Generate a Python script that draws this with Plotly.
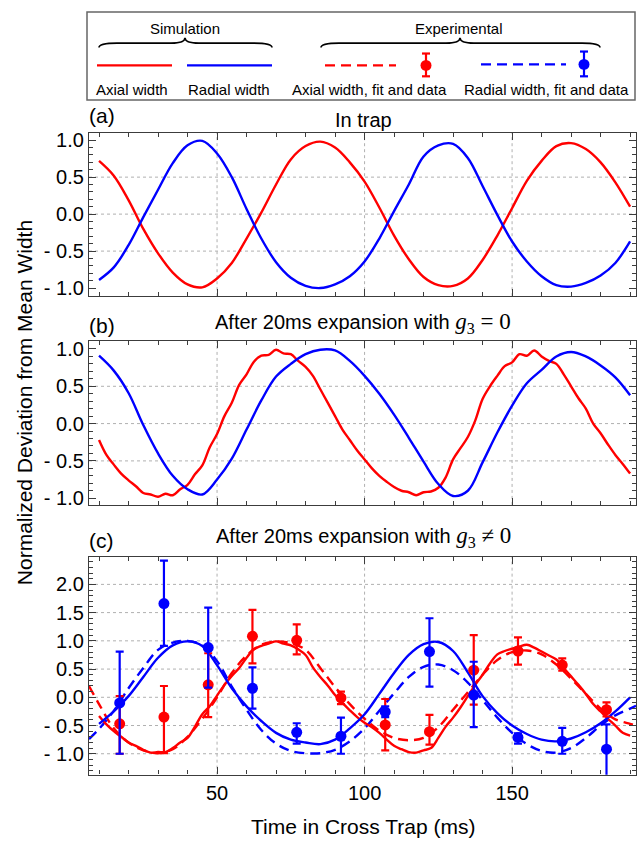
import plotly.graph_objects as go

# ---------------- data ----------------
t5 = [10, 15, 20, 25, 30, 35, 40, 45, 50, 55, 60, 65, 70, 75, 80, 85, 90, 95, 100,
      105, 110, 115, 120, 125, 130, 135, 140, 145, 150, 155, 160, 165, 170, 175,
      180, 185, 190]
t25 = [10, 12.5, 15, 17.5, 20, 22.5, 25, 27.5, 30, 32.5, 35, 37.5, 40, 42.5, 45,
       47.5, 50, 52.5, 55, 57.5, 60, 62.5, 65, 67.5, 70, 72.5, 75, 77.5, 80, 82.5,
       85, 87.5, 90, 92.5, 95, 97.5, 100, 102.5, 105, 107.5, 110, 112.5, 115,
       117.5, 120, 122.5, 125, 127.5, 130, 132.5, 135, 137.5, 140, 142.5, 145,
       147.5, 150, 152.5, 155, 157.5, 160, 162.5, 165, 167.5, 170, 172.5, 175,
       177.5, 180, 182.5, 185, 187.5, 190]

# (a) In trap
axial_a = [0.72, 0.52, 0.19, -0.20, -0.53, -0.79, -0.95, -0.99, -0.87, -0.66, -0.33,
           0.02, 0.40, 0.74, 0.92, 0.98, 0.90, 0.70, 0.44, 0.09, -0.29, -0.61, -0.85,
           -0.96, -0.97, -0.87, -0.62, -0.29, 0.08, 0.45, 0.72, 0.92, 0.96, 0.88,
           0.70, 0.43, 0.10]
radial_a = [-0.89, -0.72, -0.42, -0.04, 0.33, 0.69, 0.93, 0.99, 0.82, 0.50, 0.07,
            -0.33, -0.65, -0.86, -0.97, -1.00, -0.95, -0.84, -0.64, -0.33, 0.04, 0.40,
            0.78, 0.93, 0.95, 0.76, 0.38, -0.01, -0.37, -0.64, -0.84, -0.96, -0.98,
            -0.93, -0.83, -0.66, -0.37]

# (b) after 20 ms expansion, g3 = 0
axial_b = [-0.22, -0.42, -0.55, -0.67, -0.76, -0.84, -0.93, -0.95, -0.98, -0.94,
           -0.96, -0.88, -0.82, -0.68, -0.56, -0.32, -0.14, 0.10, 0.28, 0.52, 0.66,
           0.83, 0.91, 0.92, 0.99, 0.94, 0.93, 0.84, 0.76, 0.64, 0.46, 0.28, 0.10,
           -0.08, -0.22, -0.36, -0.48, -0.60, -0.70, -0.78, -0.85, -0.90, -0.92,
           -0.96, -0.92, -0.91, -0.86, -0.72, -0.48, -0.33, -0.18, 0.04, 0.33, 0.50,
           0.64, 0.77, 0.82, 0.93, 0.91, 0.98, 0.90, 0.84, 0.80, 0.66, 0.50, 0.34,
           0.20, 0.00, -0.13, -0.28, -0.42, -0.54, -0.67]
radial_b = [0.91, 0.71, 0.41, -0.02, -0.40, -0.70, -0.88, -0.95, -0.75, -0.47, -0.08,
            0.31, 0.63, 0.80, 0.93, 0.99, 0.98, 0.84, 0.64, 0.40, 0.12, -0.19, -0.51,
            -0.81, -0.97, -0.90, -0.52, -0.12, 0.24, 0.54, 0.72, 0.90, 0.96, 0.90,
            0.78, 0.62, 0.38]

# (c) after 20 ms expansion, g3 != 0 : simulation
axial_c = [-0.33, -0.48, -0.60, -0.70, -0.80, -0.86, -0.93, -0.98, -0.97, -0.97,
           -0.90, -0.80, -0.72, -0.52, -0.30, -0.16, 0.03, 0.22, 0.38, 0.52, 0.70,
           0.85, 0.91, 0.95, 0.99, 0.95, 0.92, 0.85, 0.75, 0.53, 0.36, 0.21, 0.04,
           -0.10, -0.23, -0.35, -0.45, -0.53, -0.63, -0.75, -0.86, -0.92, -0.97,
           -0.98, -0.94, -0.90, -0.72, -0.52, -0.36, -0.18, 0.02, 0.22, 0.40, 0.60,
           0.76, 0.82, 0.86, 0.90, 0.93, 0.88, 0.81, 0.74, 0.67, 0.52, 0.37, 0.22,
           0.06, -0.12, -0.25, -0.38, -0.50, -0.63, -0.68]
radial_c = [-0.47, -0.25, 0.02, 0.36, 0.70, 0.92, 0.99, 0.91, 0.57, 0.16, -0.16,
            -0.42, -0.63, -0.75, -0.80, -0.83, -0.75, -0.55, -0.30, 0.06, 0.43, 0.75,
            0.94, 0.98, 0.82, 0.44, 0.02, -0.28, -0.50, -0.65, -0.75, -0.78, -0.73,
            -0.62, -0.46, -0.25, 0.00]

# (c) fits
t_fit = [6.6, 10, 15, 20, 25, 30, 35, 40, 45, 50, 55, 60, 65, 70, 75, 80, 85, 90,
         95, 100, 105, 110, 115, 120, 125, 130, 135, 140, 145, 150, 155, 160, 165,
         170, 175, 180, 185, 190, 192]
axial_fit = [0.20, -0.12, -0.55, -0.80, -0.94, -0.99, -0.92, -0.70, -0.38, 0.00,
             0.43, 0.74, 0.93, 0.99, 0.96, 0.84, 0.52, 0.18, -0.12, -0.38, -0.59,
             -0.72, -0.76, -0.72, -0.53, -0.22, 0.09, 0.40, 0.66, 0.80, 0.83, 0.76,
             0.58, 0.33, 0.06, -0.20, -0.39, -0.47, -0.50]
radial_fit = [-0.74, -0.56, -0.24, 0.16, 0.52, 0.84, 0.97, 1.00, 0.92, 0.64, 0.19,
              -0.22, -0.58, -0.82, -0.95, -0.99, -0.99, -0.93, -0.78, -0.55, -0.24,
              0.07, 0.36, 0.54, 0.58, 0.48, 0.26, -0.05, -0.36, -0.63, -0.83, -0.95,
              -0.98, -0.90, -0.72, -0.50, -0.32, -0.20, -0.15]

# (c) experimental data
t_data = [17, 32, 47, 62, 77, 92, 107, 122, 137, 152, 167, 182]
axial_data = [-0.47, -0.35, 0.22, 1.08, 1.01, -0.01, -0.49, -0.61, 0.48, 0.82, 0.57, -0.22]
axial_err_up = [0.49, 0.55, 0.56, 0.47, 0.28, 0.11, 0.46, 0.30, 0.62, 0.24, 0.12, 0.13]
axial_err_dn = [0.53, 0.64, 0.57, 0.48, 0.25, 0.11, 0.45, 0.23, 0.61, 0.24, 0.10, 0.12]
radial_data = [-0.10, 1.66, 0.88, 0.16, -0.62, -0.69, -0.26, 0.81, 0.04, -0.71, -0.78, -0.92]
radial_err_up = [0.91, 0.76, 0.71, 0.37, 0.16, 0.33, 0.10, 0.59, 0.59, 0.07, 0.24, 0.44]
radial_err_dn = [0.90, 0.75, 0.71, 0.36, 0.20, 0.31, 0.09, 0.62, 0.57, 0.11, 0.22, 0.60]

x_ticks = [50, 100, 150]
y_ticks_ab = [-1.0, -0.5, 0.0, 0.5, 1.0]
y_ticks_c = [-1.0, -0.5, 0.0, 0.5, 1.0, 1.5, 2.0]
grid_ab = [-0.5, 0.0, 0.5]
grid_c = [-1.0, -0.5, 0.0, 0.5, 1.0, 1.5, 2.0]

for a, b in [(t5, axial_a), (t5, radial_a), (t25, axial_b), (t5, radial_b),
             (t25, axial_c), (t5, radial_c), (t_fit, axial_fit), (t_fit, radial_fit)]:
    assert len(a) == len(b), (len(a), len(b))

# ---------------- figure ----------------
W, H = 637, 845
RED, BLUE = "#ff0000", "#0000ff"
FONT = "Liberation Sans, Arial, sans-serif"
FRAME = "#3c3c3c"
LW = 2.4
DASH = "10px,6px"


def P(x):
    return x / W


def Q(y):
    return 1 - y / H


fig = go.Figure()


def line(x, y, color, ax, dash="solid"):
    fig.add_trace(go.Scatter(x=x, y=y, mode="lines", xaxis=ax[0], yaxis=ax[1],
                             line=dict(color=color, width=LW, dash=dash, shape="spline",
                                       smoothing=1.0),
                             showlegend=False, hoverinfo="skip"))


line(t5, axial_a, RED, ("x", "y"))
line(t5, radial_a, BLUE, ("x", "y"))
line(t25, axial_b, RED, ("x2", "y2"))
line(t5, radial_b, BLUE, ("x2", "y2"))
line(t_fit, axial_fit, RED, ("x3", "y3"), DASH)
line(t_fit, radial_fit, BLUE, ("x3", "y3"), DASH)
line(t25, axial_c, RED, ("x3", "y3"))
line(t5, radial_c, BLUE, ("x3", "y3"))

for y, up, dn, col in [(axial_data, axial_err_up, axial_err_dn, RED),
                       (radial_data, radial_err_up, radial_err_dn, BLUE)]:
    fig.add_trace(go.Scatter(x=t_data, y=y, mode="markers", xaxis="x3", yaxis="y3",
                             marker=dict(color=col, size=11, line=dict(width=0)),
                             error_y=dict(type="data", array=up, arrayminus=dn,
                                          color=col, thickness=2.2, width=4),
                             showlegend=False, hoverinfo="skip"))


def ytext(v):
    s = f"{abs(v):.1f}"
    return ("-&nbsp;" + s) if v < 0 else s


XR = [6.6, 192.0]
XD = [89 / W, 636 / W]
tickfont = dict(family=FONT, size=20, color="black")
common = dict(showline=True, linecolor=FRAME, linewidth=1.3, mirror="ticks",
              ticks="inside", ticklen=7, tickwidth=1, tickcolor=FRAME,
              showgrid=False, zeroline=False, tickfont=tickfont)


def xax(show, anchor):
    return dict(common, range=XR, domain=XD, anchor=anchor, tickvals=x_ticks,
                ticktext=[str(v) for v in x_ticks], showticklabels=show,
                minor=dict(ticks="inside", ticklen=4, tickcolor=FRAME, dtick=10, tick0=0))


def yax(rng, dom, vals, anchor):
    return dict(common, range=rng, domain=dom, anchor=anchor, tickvals=vals,
                ticktext=[ytext(v) for v in vals], ticklabelstandoff=0,
                minor=dict(ticks="inside", ticklen=4, tickcolor=FRAME, dtick=0.1, tick0=0))


fig.update_layout(
    width=W, height=H, margin=dict(l=0, r=0, t=0, b=0),
    paper_bgcolor="white", plot_bgcolor="white",
    xaxis=xax(False, "y"), xaxis2=xax(False, "y2"), xaxis3=xax(True, "y3"),
    yaxis=yax([-1.11, 1.10], [Q(295), Q(130)], y_ticks_ab, "x"),
    yaxis2=yax([-1.09, 1.11], [Q(505.7), Q(340)], y_ticks_ab, "x2"),
    yaxis3=yax([-1.37, 2.49], [Q(778), Q(558)], y_ticks_c, "x3"),
)

# grid lines
shapes = []
GRID = dict(color="#b0b0b0", width=1, dash="dot")
for xr, yr, glist in [("x", "y", grid_ab), ("x2", "y2", grid_ab), ("x3", "y3", grid_c)]:
    for g in glist:
        shapes.append(dict(type="line", xref=xr + " domain", yref=yr, x0=0, x1=1,
                           y0=g, y1=g, line=GRID, layer="below"))
    for g in x_ticks:
        shapes.append(dict(type="line", xref=xr, yref=yr + " domain", x0=g, x1=g,
                           y0=0, y1=1, line=GRID, layer="below"))

# legend box (drawn)
shapes.append(dict(type="rect", xref="paper", yref="paper", x0=P(87), x1=P(635),
                   y0=Q(97), y1=Q(8), line=dict(color="#666", width=1.5)))


def hline(x0, x1, y, col, dash="solid"):
    shapes.append(dict(type="line", xref="paper", yref="paper", x0=P(x0), x1=P(x1),
                       y0=Q(y), y1=Q(y), line=dict(color=col, width=2.4, dash=dash)))


def errmark(x, y, top, bot, col):
    shapes.append(dict(type="line", xref="paper", yref="paper", x0=P(x), x1=P(x),
                       y0=Q(bot), y1=Q(top), line=dict(color=col, width=2.2)))
    for yy in (top, bot):
        shapes.append(dict(type="line", xref="paper", yref="paper", x0=P(x - 4),
                           x1=P(x + 4), y0=Q(yy), y1=Q(yy), line=dict(color=col, width=2.2)))
    shapes.append(dict(type="circle", xref="paper", yref="paper", x0=P(x - 5.5),
                       x1=P(x + 5.5), y0=Q(y + 5.5), y1=Q(y - 5.5),
                       fillcolor=col, line=dict(color=col, width=0)))


def brace(x0, xm, x1, yb, ym, yt):
    pts = [("M", [(x0, yb)]), ("Q", [(x0, ym), (x0 + 18, ym)]), ("L", [(xm - 14, ym)]),
           ("Q", [(xm, ym), (xm, yt)]), ("Q", [(xm, ym), (xm + 14, ym)]),
           ("L", [(x1 - 18, ym)]), ("Q", [(x1, ym), (x1, yb)])]
    path = " ".join(c + " " + " ".join(f"{P(a):.5f},{Q(b):.5f}" for a, b in p) for c, p in pts)
    shapes.append(dict(type="path", xref="paper", yref="paper", path=path,
                       line=dict(color="black", width=1.6)))


brace(99, 185, 272, 44, 39.5, 34)
brace(321, 460, 600, 44, 39.5, 34)
hline(97, 172, 62, RED)
hline(187, 272, 62, BLUE)
hline(325, 396, 62, RED, DASH)
errmark(426, 62, 50, 73, RED)
hline(481, 566, 61, BLUE, DASH)
errmark(584, 61, 48, 73, BLUE)

fig.update_layout(shapes=shapes)

# annotations
ann = []


def text(x, y, s, size, xanchor="center", angle=0, family=FONT):
    ann.append(dict(xref="paper", yref="paper", x=P(x), y=Q(y), text=s, showarrow=False,
                    xanchor=xanchor, yanchor="middle", textangle=angle,
                    font=dict(family=family, size=size, color="black")))


LF = 15
text(185, 25, "Simulation", LF)
text(459, 25, "Experimental", LF)
text(132, 86, "Axial width", LF)
text(229, 86, "Radial width", LF)
text(369, 86, "Axial width, fit and data", LF)
text(546, 86, "Radial width, fit and data", LF)

text(87, 113, "(a)", 21, "left")
text(87, 325, "(b)", 21, "left")
text(87, 542, "(c)", 21, "left")

math = ('<span style="font-family:Liberation Serif;font-size:23px"><i>g</i>'
        '<sub>3</sub> {} 0</span>')
text(363, 117, "In trap", 20)
text(363, 322, "After 20ms expansion with " + math.format("="), 20)
text(363, 538, "After 20ms expansion with " + math.format("≠"), 20)

text(363, 830, "Time in Cross Trap (ms)", 21)
text(24, 403, "Normalized Deviation from Mean Width", 21, angle=-90)

fig.update_layout(annotations=ann)

fig.write_html("out.html")
